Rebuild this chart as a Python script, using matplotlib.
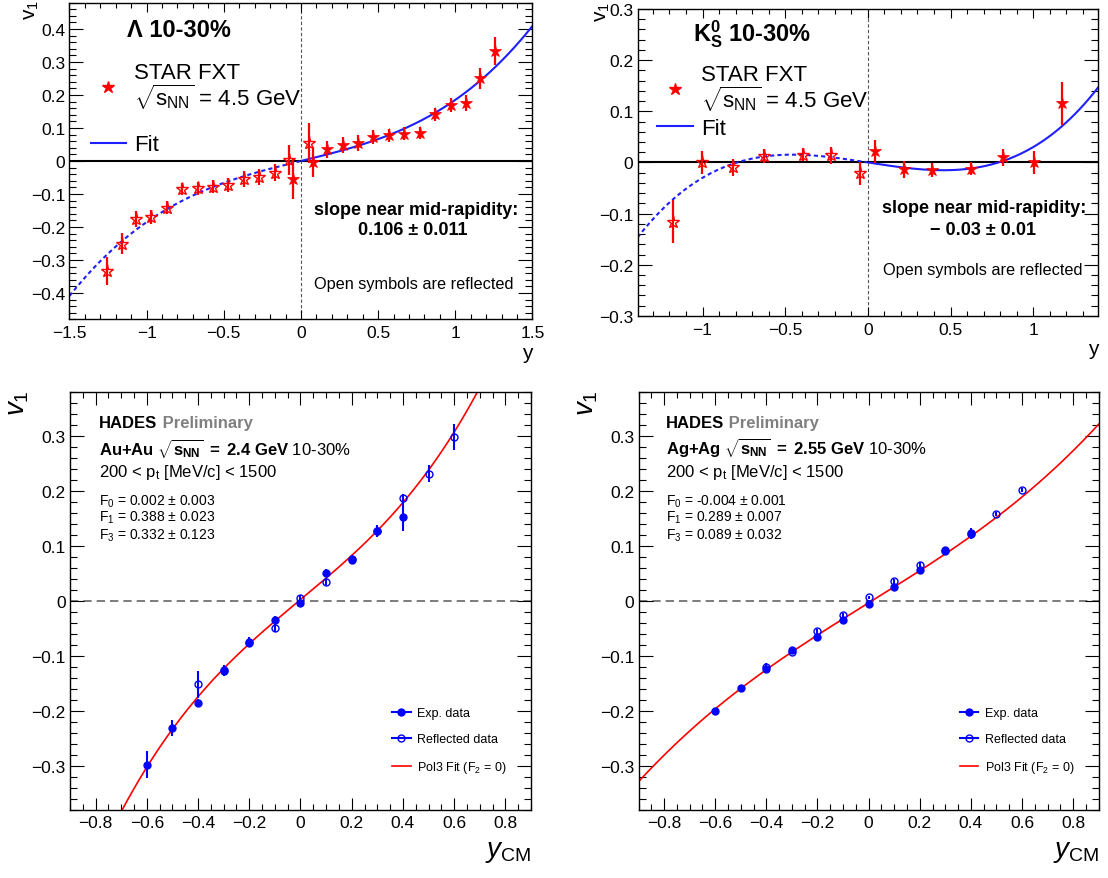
import numpy as np
import matplotlib
matplotlib.use('Agg')
import matplotlib.pyplot as plt
from matplotlib.lines import Line2D
from matplotlib.ticker import MultipleLocator, FuncFormatter

plt.rcParams['font.family'] = ['Liberation Sans', 'DejaVu Sans']
plt.rcParams['mathtext.fontset'] = 'custom'
plt.rcParams['mathtext.rm'] = 'Liberation Sans'
plt.rcParams['mathtext.it'] = 'Liberation Sans:italic'
plt.rcParams['mathtext.bf'] = 'Liberation Sans:bold'
plt.rcParams['mathtext.default'] = 'regular'

# ---- STAR FXT Lambda, 10-30% ----
lam_y = [-0.05, 0.08, 0.17, 0.27, 0.37, 0.47, 0.57, 0.67, 0.77, 0.87, 0.97, 1.07, 1.16, 1.26]
lam_v1 = [-0.055, -0.002, 0.035, 0.048, 0.055, 0.073, 0.078, 0.083, 0.084, 0.141, 0.169, 0.176, 0.250, 0.333]
lam_err = [0.060, 0.045, 0.025, 0.025, 0.025, 0.022, 0.020, 0.020, 0.018, 0.020, 0.022, 0.025, 0.032, 0.043]
lam_refl_y = [0.05, -0.08, -0.17, -0.27, -0.37, -0.47, -0.57, -0.67, -0.77, -0.87, -0.97, -1.07, -1.16, -1.26]
lam_refl_v1 = [0.055, 0.002, -0.035, -0.048, -0.055, -0.073, -0.078, -0.083, -0.084, -0.141, -0.169, -0.176, -0.250, -0.333]
lam_fit = (0.115, 0.070)   # p1*y + p3*y^3

# ---- STAR FXT K0s, 10-30% ----
k0_y = [0.045, 0.22, 0.39, 0.626, 0.818, 1.004, 1.177]
k0_v1 = [0.0215, -0.0137, -0.015, -0.0124, 0.0097, 0.0, 0.116]
k0_err = [0.022, 0.016, 0.013, 0.013, 0.017, 0.022, 0.042]
k0_refl_y = [-0.045, -0.22, -0.39, -0.626, -0.818, -1.004, -1.177]
k0_refl_v1 = [-0.0215, 0.0137, 0.015, 0.0124, -0.0097, 0.0, -0.116]
k0_fit = (-0.050, 0.080)

# ---- HADES Au+Au 2.4 GeV ----
au_y = [-0.6, -0.5, -0.4, -0.3, -0.2, -0.1, 0.0, 0.1, 0.2, 0.3, 0.4]
au_v1 = [-0.298, -0.231, -0.186, -0.126, -0.076, -0.0345, -0.005, 0.050, 0.0745, 0.127, 0.152]
au_err = [0.024, 0.015, 0.008, 0.010, 0.008, 0.006, 0.005, 0.007, 0.008, 0.010, 0.025]
au_refl_y = [-0.4, -0.3, -0.2, -0.1, 0.0, 0.1, 0.2, 0.3, 0.4, 0.5, 0.6]
au_refl_v1 = [-0.152, -0.127, -0.0745, -0.050, 0.005, 0.0345, 0.076, 0.126, 0.186, 0.231, 0.298]
au_refl_err = [0.025, 0.010, 0.008, 0.007, 0.005, 0.006, 0.008, 0.010, 0.008, 0.015, 0.024]
au_fit = (0.002, 0.388, 0.332)

# ---- HADES Ag+Ag 2.55 GeV ----
ag_y = [-0.6, -0.5, -0.4, -0.3, -0.2, -0.1, 0.0, 0.1, 0.2, 0.3, 0.4]
ag_v1 = [-0.201, -0.158, -0.124, -0.0897, -0.0655, -0.035, -0.006, 0.0255, 0.0558, 0.0927, 0.121]
ag_err = [0.004, 0.004, 0.008, 0.005, 0.004, 0.004, 0.003, 0.004, 0.004, 0.005, 0.008]
ag_refl_y = [-0.4, -0.3, -0.2, -0.1, 0.0, 0.1, 0.2, 0.3, 0.4, 0.5, 0.6]
ag_refl_v1 = [-0.121, -0.0927, -0.0558, -0.0255, 0.006, 0.035, 0.0655, 0.0897, 0.124, 0.158, 0.201]
ag_refl_err = [0.008, 0.005, 0.004, 0.004, 0.003, 0.004, 0.004, 0.005, 0.008, 0.004, 0.004]
ag_fit = (-0.004, 0.289, 0.089)

RED = '#ff0000'
BLUE = '#0000ff'
FITBLUE = '#1f1fff'


def fmt(v, p):
    s = '%g' % round(v, 6)
    if s in ('-0', '0'):
        return '0'
    return s.replace('-', '\u2212')


def style(ax, xmaj, xmin, ymaj, ymin, xlen, ylen):
    ax.xaxis.set_major_locator(MultipleLocator(xmaj))
    ax.xaxis.set_minor_locator(MultipleLocator(xmin))
    ax.yaxis.set_major_locator(MultipleLocator(ymaj))
    ax.yaxis.set_minor_locator(MultipleLocator(ymin))
    ax.xaxis.set_major_formatter(FuncFormatter(fmt))
    ax.yaxis.set_major_formatter(FuncFormatter(fmt))
    ax.tick_params(axis='x', which='major', direction='in', top=True, bottom=True,
                   length=xlen, width=0.8, labelsize=12.5, pad=4)
    ax.tick_params(axis='x', which='minor', direction='in', top=True, bottom=True,
                   length=xlen / 2, width=0.8)
    ax.tick_params(axis='y', which='major', direction='in', left=True, right=True,
                   length=ylen, width=0.8, labelsize=12.5, pad=3)
    ax.tick_params(axis='y', which='minor', direction='in', left=True, right=True,
                   length=ylen / 2, width=0.8)
    for sp in ax.spines.values():
        sp.set_linewidth(1.0)


def star_panel(ax, y, v1, err, ry, rv1, fit, xlim, ylim):
    ax.axhline(0, color='black', lw=1.5, zorder=1)
    ax.axvline(0, color='#555555', lw=0.8, ls=(0, (3, 2)), zorder=1)
    xs = np.linspace(xlim[0], xlim[1], 300)
    f = fit[0] * xs + fit[1] * xs ** 3
    ax.plot(xs[xs >= 0], f[xs >= 0], color=FITBLUE, lw=1.5, zorder=2)
    ax.plot(xs[xs <= 0], f[xs <= 0], color=FITBLUE, lw=1.5, ls=(0, (2, 1.5)), zorder=2)
    ax.errorbar(ry, rv1, yerr=err, fmt='*', ms=9.5, mfc='none', mec=RED, mew=1.0,
                ecolor=RED, elinewidth=1.6, capsize=0, zorder=3)
    ax.errorbar(y, v1, yerr=err, fmt='*', ms=9.5, mfc=RED, mec=RED, mew=0.5,
                ecolor=RED, elinewidth=1.6, capsize=0, zorder=4)
    ax.set_xlim(*xlim)
    ax.set_ylim(*ylim)


def star_legend(ax, anchor, spacing):
    h = [Line2D([], [], ls='none', marker='*', ms=9, color=RED),
         Line2D([], [], color=FITBLUE, lw=1.5)]
    leg = ax.legend(h, ['STAR FXT\n' + r'$\sqrt{s_{NN}}$ = 4.5 GeV', 'Fit'], loc='upper left',
                    bbox_to_anchor=anchor, frameon=False, fontsize=16, handlelength=1.6,
                    handletextpad=0.36, labelspacing=spacing, borderpad=0, borderaxespad=0)
    for t in leg.get_texts():
        t.set_linespacing(0.95)


def hades_panel(ax, y, v1, err, ry, rv1, rerr, fit):
    ax.axhline(0, color='#666666', lw=1.2, ls=(0, (5, 3)), zorder=1)
    xs = np.linspace(-0.9, 0.9, 300)
    ax.plot(xs, fit[0] + fit[1] * xs + fit[2] * xs ** 3, color=RED, lw=1.2, zorder=2)
    ax.errorbar(ry, rv1, yerr=rerr, fmt='o', ms=5, mfc='none', mec=BLUE, mew=1.0,
                ecolor=BLUE, elinewidth=1.5, capsize=0, zorder=3)
    ax.errorbar(y, v1, yerr=err, fmt='o', ms=5, mfc=BLUE, mec=BLUE,
                ecolor=BLUE, elinewidth=1.5, capsize=0, zorder=4)
    ax.set_xlim(-0.9, 0.9)
    ax.set_ylim(-0.38, 0.38)
    style(ax, 0.2, 0.05, 0.1, 0.02, 9, 10)
    handles = [Line2D([], [], color=BLUE, marker='o', ms=5, lw=1.5),
               Line2D([], [], color=BLUE, marker='o', ms=5, mfc='none', lw=1.5),
               Line2D([], [], color=RED, lw=1.2)]
    labels = ['Exp. data', 'Reflected data', r'Pol3 Fit (F$_2$ = 0)']
    ax.legend(handles, labels, loc='center left', bbox_to_anchor=(0.698, 0.164),
              frameon=False, fontsize=9, handlelength=1.5, handletextpad=0.5,
              labelspacing=1.1, borderpad=0, borderaxespad=0)
    ax.text(1.0, -0.10, r'$\mathit{y}_{CM}$', transform=ax.transAxes, ha='right',
            va='center', fontsize=20)
    ax.text(-0.112, 1.006, r'$\mathit{v}_{1}$', transform=ax.transAxes, ha='center',
            va='top', rotation=90, fontsize=20)


fig = plt.figure(figsize=(11.08, 8.79), dpi=100)
ax1 = fig.add_axes([0.0627, 0.6354, 0.4178, 0.3606])
ax2 = fig.add_axes([0.5754, 0.6394, 0.4160, 0.3493])
ax3 = fig.add_axes([0.0632, 0.0777, 0.4160, 0.4755])
ax4 = fig.add_axes([0.5763, 0.0777, 0.4153, 0.4755])

# ---- panel 1: Lambda ----
star_panel(ax1, lam_y, lam_v1, lam_err, lam_refl_y, lam_refl_v1, lam_fit, (-1.5, 1.5), (-0.48, 0.48))
style(ax1, 0.5, 0.1, 0.1, 0.02, 6.8, 10)
ax1.text(-1.127, 0.398, 'Λ 10-30%', fontsize=17, weight='bold', va='center', ha='left')
ax1.text(0.746, -0.148, 'slope near mid-rapidity:', fontsize=13, weight='bold', ha='center', va='center')
ax1.text(0.727, -0.206, '0.106 ± 0.011', fontsize=13, weight='bold', ha='center', va='center')
ax1.text(0.734, -0.370, 'Open symbols are reflected', fontsize=11.7, ha='center', va='center')
ax1.text(1.0, -0.105, 'y', transform=ax1.transAxes, ha='right', va='center', fontsize=15)
ax1.text(-0.081, 1.011, r'$v_1$', transform=ax1.transAxes, ha='center', va='top', rotation=90, fontsize=15)
star_legend(ax1, (0.0458, 0.812), 1.04)

# ---- panel 2: K0s ----
star_panel(ax2, k0_y, k0_v1, k0_err, k0_refl_y, k0_refl_v1, k0_fit, (-1.393, 1.395), (-0.3, 0.3))
style(ax2, 0.5, 0.1, 0.1, 0.02, 6.8, 10)
ax2.text(-1.059, 0.253, r'$K^0_S$ 10-30%', fontsize=17, weight='bold', va='center', ha='left')
ax2.text(0.706, -0.089, 'slope near mid-rapidity:', fontsize=13, weight='bold', ha='center', va='center')
ax2.text(0.695, -0.131, '\u2212 0.03 ± 0.01', fontsize=13, weight='bold', ha='center', va='center')
ax2.text(0.695, -0.210, 'Open symbols are reflected', fontsize=11.7, ha='center', va='center')
ax2.text(1.0, -0.105, 'y', transform=ax2.transAxes, ha='right', va='center', fontsize=15)
ax2.text(-0.077, 1.026, r'$v_1$', transform=ax2.transAxes, ha='center', va='top', rotation=90, fontsize=15)
star_legend(ax2, (0.043, 0.821), 0.23)

# ---- panels 3 and 4: HADES ----
hades_panel(ax3, au_y, au_v1, au_err, au_refl_y, au_refl_v1, au_refl_err, au_fit)
hades_panel(ax4, ag_y, ag_v1, ag_err, ag_refl_y, ag_refl_v1, ag_refl_err, ag_fit)

texts = [(ax3, 0.0636, 'Au{+}Au', '2.4', ('0.002', '0.003'), ('0.388', '0.023'), ('0.332', '0.123')),
         (ax4, 0.059, 'Ag{+}Ag', '2.55', ('-0.004', '0.001'), ('0.289', '0.007'), ('0.089', '0.032'))]
for ax, x0, sys_name, energy, f0, f1, f3 in texts:
    t = ax.text(x0, 0.926, 'HADES', transform=ax.transAxes, fontsize=12, weight='bold', va='center')
    ax.annotate(' Preliminary', xy=(1, 0), xycoords=t, va='bottom', ha='left',
                fontsize=12, weight='bold', color='#808080')
    ax.text(x0, 0.867, r'$\mathbf{%s}\ \mathbf{\sqrt{s_{NN}}\ {=}\ %s\ GeV}$ 10-30%%' % (sys_name, energy),
            transform=ax.transAxes, fontsize=12, va='center')
    ax.text(x0, 0.809, r'200 < p$_t$ [MeV/c] < 1500', transform=ax.transAxes, fontsize=12, va='center')
    ax.text(x0, 0.739, r'F$_0$ = %s ± %s' % f0, transform=ax.transAxes, fontsize=10, va='center')
    ax.text(x0, 0.700, r'F$_1$ = %s ± %s' % f1, transform=ax.transAxes, fontsize=10, va='center')
    ax.text(x0, 0.658, r'F$_3$ = %s ± %s' % f3, transform=ax.transAxes, fontsize=10, va='center')

fig.savefig('out.png', dpi=100)
